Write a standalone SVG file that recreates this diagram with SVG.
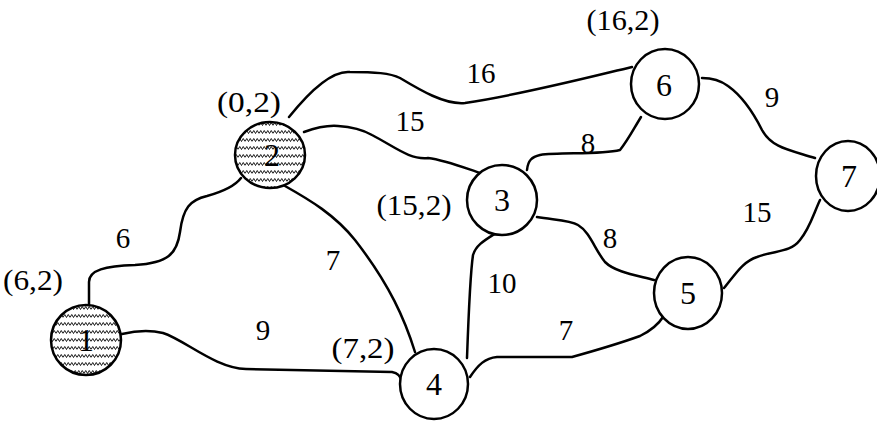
<svg xmlns="http://www.w3.org/2000/svg" width="877" height="423" viewBox="0 0 877 423">
<style>
.node{fill:#fff;stroke:#000;stroke-width:2.5}
.hatch{fill:url(#wave);stroke:#000;stroke-width:2.5}
.edge{fill:none;stroke:#000;stroke-width:2.5;stroke-linejoin:round;stroke-linecap:round}
.nl{font-family:"Liberation Serif","Times New Roman",serif;font-size:32px;text-anchor:middle;fill:#000}
.el{font-family:"Liberation Serif","Times New Roman",serif;font-size:29px;text-anchor:middle;fill:#000}
</style>
<defs>
<pattern id="wave" patternUnits="userSpaceOnUse" width="7" height="8">
<rect width="7" height="8" fill="#fff"/>
<path d="M0,5.5 L1.75,2.5 L3.5,5.5 L5.25,2.5 L7,5.5" fill="none" stroke="#000" stroke-width="0.9"/>
</pattern>
</defs>
<g id="connectors">
<path class="edge" d="M89,305 L89,282 C89,270 105,266 135,265 C168,263 177,254 180,232 C183,208 190,200 207,196 C225,191 235,186 241,178"/>
<path class="edge" d="M122,334 C135,331 150,330 163,333 C185,340 215,368 246,369 L392,372 C398,373 401,377 402,382"/>
<path class="edge" d="M285,186 C310,200 335,215 355,240 C390,285 405,320 415,352"/>
<path class="edge" d="M289,117 C305,97 330,70 350,72 C375,72 390,73 400,78 C420,90 445,105 465,103 C520,95 590,77 632,67"/>
<path class="edge" d="M304,132 C315,128 325,125 338,126 C355,127 365,131 372,135 C395,147 410,160 428,158 C445,160 465,168 480,173"/>
<path class="edge" d="M527,170 C528,160 532,157 540,155 C560,152 600,155 620,150 C628,140 633,130 641,117"/>
<path class="edge" d="M537,217 C555,220 570,220 578,225 C590,232 595,250 605,262 C615,272 635,275 654,280"/>
<path class="edge" d="M496,233 C485,240 476,245 473,255 C470,275 468,330 467,358"/>
<path class="edge" d="M470,377 C478,365 485,358 497,357 L572,357 C590,352 615,345 640,336 C652,330 658,325 663,317"/>
<path class="edge" d="M724,288 C735,275 742,262 757,257 C775,250 790,253 800,240 C810,228 813,215 820,200"/>
<path class="edge" d="M702,78 C712,78 720,80 728,86 C742,96 752,110 762,130 C772,148 790,150 815,158"/>
</g>
<g id="edge-labels">
<text class="el" x="123" y="248">6</text>
<text class="el" x="263" y="340">9</text>
<text class="el" x="333" y="270">7</text>
<text class="el" x="481" y="83">16</text>
<text class="el" x="410" y="131">15</text>
<text class="el" x="588" y="153">8</text>
<text class="el" x="610" y="248">8</text>
<text class="el" x="502" y="293">10</text>
<text class="el" x="566" y="340">7</text>
<text class="el" x="757" y="222">15</text>
<text class="el" x="772" y="107">9</text>
</g>
<g id="node-1">
<ellipse class="hatch" cx="86" cy="340" rx="35" ry="35"/>
<text class="nl" x="86" y="351">1</text>
<text class="el" x="33" y="290" textLength="60" lengthAdjust="spacingAndGlyphs">(6,2)</text>
</g>
<g id="node-2">
<ellipse class="hatch" cx="270" cy="155" rx="35" ry="33"/>
<text class="nl" x="272" y="166">2</text>
<text class="el" x="249" y="112" textLength="64" lengthAdjust="spacingAndGlyphs">(0,2)</text>
</g>
<g id="node-3">
<ellipse class="node" cx="502" cy="200" rx="35" ry="35"/>
<text class="nl" x="502" y="211">3</text>
<text class="el" x="414" y="215" textLength="75" lengthAdjust="spacingAndGlyphs">(15,2)</text>
</g>
<g id="node-4">
<ellipse class="node" cx="434" cy="384" rx="34" ry="35"/>
<text class="nl" x="434" y="395">4</text>
<text class="el" x="363" y="358" textLength="63" lengthAdjust="spacingAndGlyphs">(7,2)</text>
</g>
<g id="node-5">
<ellipse class="node" cx="688" cy="293" rx="34" ry="36"/>
<text class="nl" x="688" y="304">5</text>
</g>
<g id="node-6">
<ellipse class="node" cx="665" cy="84" rx="34" ry="35"/>
<text class="nl" x="664" y="96">6</text>
<text class="el" x="623" y="30" textLength="73" lengthAdjust="spacingAndGlyphs">(16,2)</text>
</g>
<g id="node-7">
<ellipse class="node" cx="848" cy="176" rx="32" ry="35"/>
<text class="nl" x="849" y="187">7</text>
</g>
</svg>
